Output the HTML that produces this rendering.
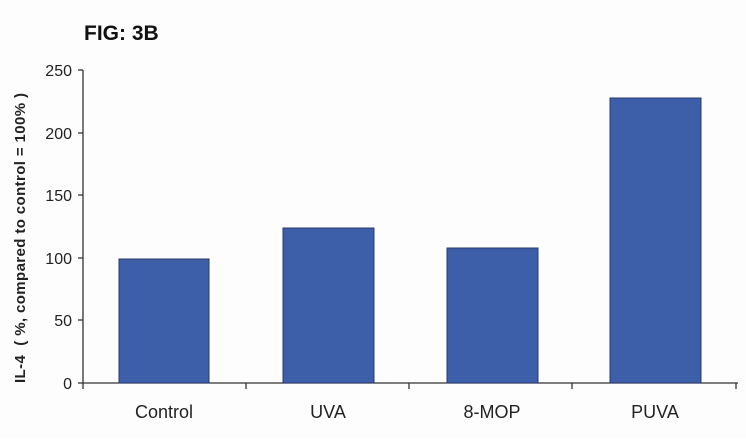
<!DOCTYPE html>
<html><head><style>body{margin:0;background:#fff}</style></head><body>
<svg width="746" height="438" xmlns="http://www.w3.org/2000/svg" font-family="Liberation Sans, sans-serif">
<rect width="746" height="438" fill="#fdfdfd"/>
<text x="84" y="40" font-size="21" font-weight="bold" fill="#111">FIG: 3B</text>
<g stroke="#333" stroke-width="1.3" fill="none">
<line x1="83" y1="70" x2="83" y2="383"/>
<line x1="83" y1="383" x2="738" y2="383"/>
<line x1="78" y1="70" x2="83" y2="70"/><line x1="78" y1="133" x2="83" y2="133"/>
<line x1="78" y1="195" x2="83" y2="195"/><line x1="78" y1="258" x2="83" y2="258"/>
<line x1="78" y1="320" x2="83" y2="320"/><line x1="78" y1="383" x2="83" y2="383"/>
<line x1="83" y1="383" x2="83" y2="389"/><line x1="246" y1="383" x2="246" y2="389"/>
<line x1="409" y1="383" x2="409" y2="389"/><line x1="572" y1="383" x2="572" y2="389"/>
<line x1="736" y1="383" x2="736" y2="389"/>
</g>
<g font-size="16" fill="#222" text-anchor="end">
<text x="72" y="76">250</text><text x="72" y="139">200</text><text x="72" y="201">150</text>
<text x="72" y="264">100</text><text x="72" y="326">50</text><text x="72" y="389">0</text>
</g>
<g fill="#3d5ea8" stroke="#2a3a6a" stroke-width="1">
<rect x="119" y="259" width="90" height="124"/>
<rect x="283" y="228" width="91" height="155"/>
<rect x="447" y="248" width="91" height="135"/>
<rect x="610" y="98" width="91" height="285"/>
</g>
<g font-size="18" fill="#222" text-anchor="middle">
<text x="164" y="418">Control</text><text x="328" y="418">UVA</text>
<text x="492" y="418">8-MOP</text><text x="655" y="418">PUVA</text>
</g>
<text transform="translate(25,238) rotate(-90)" font-size="15" font-weight="bold" fill="#222" text-anchor="middle" textLength="290" lengthAdjust="spacing">IL-4&#160;&#160;( %, compared to control = 100% )</text>
</svg>
</body></html>
